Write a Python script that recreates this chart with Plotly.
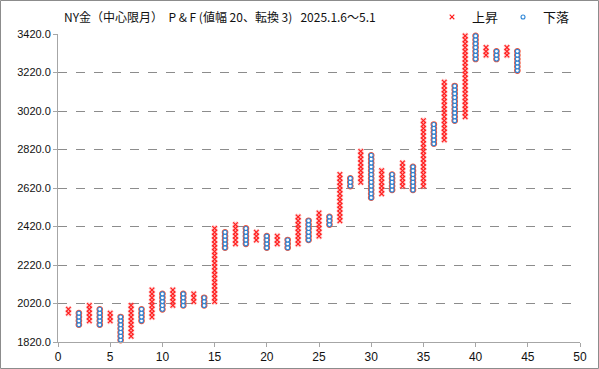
import plotly.graph_objects as go

BOX = 20
# Point & Figure columns: column number, direction, lowest box, highest box
columns = list(range(1, 45))
direction = ["X", "O"] * 22
lows = [1960, 1900, 1920, 1900, 1920, 1820, 1840, 1920, 1940, 1980,
        2000, 2000, 2020, 2000, 2020, 2300, 2320, 2320, 2340, 2300,
        2320, 2300, 2320, 2340, 2360, 2420, 2440, 2620, 2640, 2560,
        2580, 2600, 2620, 2600, 2620, 2840, 2860, 2960, 2980, 3280,
        3300, 3280, 3300, 3220]
highs = [1980, 1960, 2000, 1980, 1960, 1940, 2000, 1980, 2080, 2060,
         2080, 2060, 2060, 2040, 2400, 2380, 2420, 2400, 2380, 2360,
         2360, 2340, 2460, 2440, 2480, 2460, 2680, 2660, 2800, 2780,
         2700, 2680, 2740, 2720, 2960, 2940, 3160, 3140, 3420, 3400,
         3340, 3320, 3340, 3320]
y_ticks = [1820, 2020, 2220, 2420, 2620, 2820, 3020, 3220, 3420]
x_ticks = [0, 5, 10, 15, 20, 25, 30, 35, 40, 45, 50]
title_text = "NY金（中心限月）  P & F (値幅 20、転換 3)   2025.1.6〜5.1"

xs_x, ys_x, xs_o, ys_o = [], [], [], []
for c, d, lo, hi in zip(columns, direction, lows, highs):
    for lvl in range(lo, hi + BOX, BOX):
        if d == "X":
            xs_x.append(c); ys_x.append(lvl + BOX / 2)
        else:
            xs_o.append(c); ys_o.append(lvl + BOX / 2)

RED = "#ff1a1a"
BLUE = "#2e86d6"

fig = go.Figure()
# soft halos
fig.add_trace(go.Scatter(x=xs_x, y=ys_x, mode="markers", showlegend=False, hoverinfo="skip",
                         cliponaxis=False,
                         marker=dict(symbol="x-thin", size=5,
                                     line=dict(color="rgba(255,120,120,0.4)", width=3))))
fig.add_trace(go.Scatter(x=xs_o, y=ys_o, mode="markers", showlegend=False, hoverinfo="skip",
                         cliponaxis=False,
                         marker=dict(symbol="circle-open", size=4.5,
                                     line=dict(color="rgba(120,180,235,0.5)", width=2.2))))
fig.add_trace(go.Scatter(x=xs_x, y=ys_x, mode="markers", name="上昇", cliponaxis=False,
                         marker=dict(symbol="x-thin", size=4.6,
                                     line=dict(color=RED, width=1.1))))
fig.add_trace(go.Scatter(x=xs_o, y=ys_o, mode="markers", name="下落", cliponaxis=False,
                         marker=dict(symbol="circle", size=4, color="white",
                                     line=dict(color=BLUE, width=1.1))))

W, H = 599, 369
ml, mr, mt, mb = 58, 19, 34, 27
pw, ph = W - ml - mr, H - mt - mb

fig.update_layout(
    width=W, height=H,
    margin=dict(l=ml, r=mr, t=mt, b=mb, autoexpand=False),
    paper_bgcolor="white", plot_bgcolor="white",
    font=dict(family="Liberation Sans, Arial, sans-serif", size=11, color="#111"),
    showlegend=True,
    legend=dict(orientation="h", xref="container", yref="container",
                x=575 / W, xanchor="right", y=1 - 17 / H, yanchor="middle",
                font=dict(family="Noto Sans CJK JP", size=13, color="#111"),
                itemwidth=30, bgcolor="rgba(0,0,0,0)", tracegroupgap=0),
    xaxis=dict(range=[0, 50], tickvals=x_ticks, showgrid=False, zeroline=False,
               showline=True, linecolor="#a6a6a6", linewidth=1,
               ticks="outside", ticklen=4, tickcolor="#a6a6a6",
               tickfont=dict(size=12), automargin=False),
    yaxis=dict(range=[1820, 3420], tickvals=y_ticks, tickformat=".1f",
               showgrid=True, gridcolor="#8c8c8c", griddash="dash", gridwidth=1,
               zeroline=False, showline=True, linecolor="#a6a6a6", linewidth=1,
               ticks="outside", ticklen=4, tickcolor="#a6a6a6",
               tickfont=dict(size=11), automargin=False),
    annotations=[dict(text=title_text, xref="paper", yref="paper",
                      x=(62 - ml) / pw, y=1 + (mt - 17) / ph, xanchor="left", yanchor="middle",
                      showarrow=False,
                      font=dict(family="Noto Sans CJK JP", size=12, color="#111"))],
    shapes=[dict(type="rect", xref="paper", yref="paper",
                 x0=(0.5 - ml) / pw, x1=(W - 0.5 - ml) / pw,
                 y0=-(mb - 0.5) / ph, y1=1 + (mt - 0.5) / ph,
                 line=dict(color="#8c8c8c", width=1), layer="below")],
)

fig.write_html("out.html", config={"displayModeBar": False},
               post_script="document.body.style.margin='0';document.body.style.padding='0';"
                           "document.documentElement.style.overflow='hidden';")
